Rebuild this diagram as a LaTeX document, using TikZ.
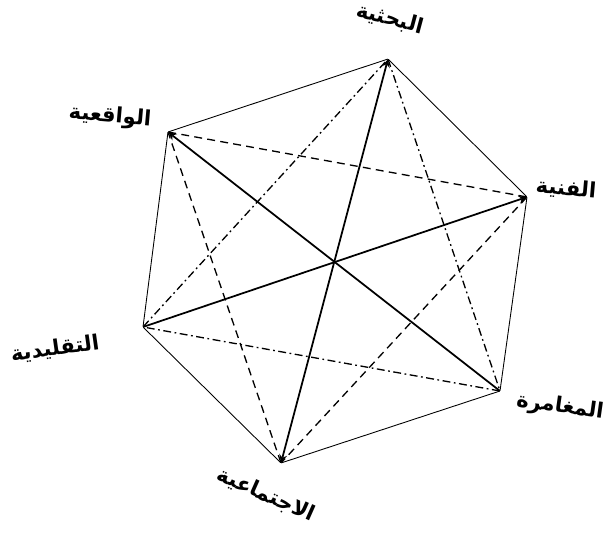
\documentclass[tikz,border=0pt]{standalone}
\usepackage{fontspec}
\newfontfamily\arabicfont[Script=Arabic]{DejaVu Sans}
\TeXXeTstate=1
\usetikzlibrary{arrows}
\tikzstyle{corner} = [inner sep=0pt, minimum size=0pt]
\tikzstyle{typename} = [font=\arabicfont\bfseries\large, inner sep=1pt]
\tikzstyle{hexline} = [line width=0.5pt]
\tikzstyle{diagline} = [line width=1pt, >=stealth]
\tikzstyle{dashline} = [line width=0.75pt, dash pattern=on 4.5pt off 3pt]
\tikzstyle{dotline} = [line width=0.75pt, dash pattern=on 4.5pt off 2pt on 1pt off 2pt]

\begin{document}
\begin{tikzpicture}[x=0.02cm, y=-0.02cm]
\useasboundingbox (0,0) rectangle (603,533);

\node (inv) [corner] at (388,59) {};
\node (rea) [corner] at (168,132) {};
\node (art) [corner] at (527,197) {};
\node (con) [corner] at (143,327) {};
\node (ent) [corner] at (500,391) {};
\node (soc) [corner] at (281,463) {};

\node (tinv) [typename, rotate=-15] at (390,19) {\beginR البحثية\endR};
\node (trea) [typename, rotate=-5] at (110,117) {\beginR الواقعية\endR};
\node (tart) [typename, rotate=-5] at (566,189) {\beginR الفنية\endR};
\node (tcon) [typename, rotate=8] at (55,349) {\beginR التقليدية\endR};
\node (tent) [typename, rotate=-8] at (560,407) {\beginR المغامرة\endR};
\node (tsoc) [typename, rotate=-24] at (266,495) {\beginR الاجتماعية\endR};

% hexagon
\draw [hexline] (inv) -- (art) -- (ent) -- (soc) -- (con) -- (rea) -- (inv);

% opposite corners
\draw [diagline, <->] (inv) -- (soc);
\draw [diagline, <-] (rea) -- (ent);
\draw [diagline, ->] (con) -- (art);

% two triangles
\draw [dashline] (rea) -- (art) -- (soc) -- (rea);
\draw [dotline] (inv) -- (ent) -- (con) -- (inv);
\end{tikzpicture}
\end{document}
